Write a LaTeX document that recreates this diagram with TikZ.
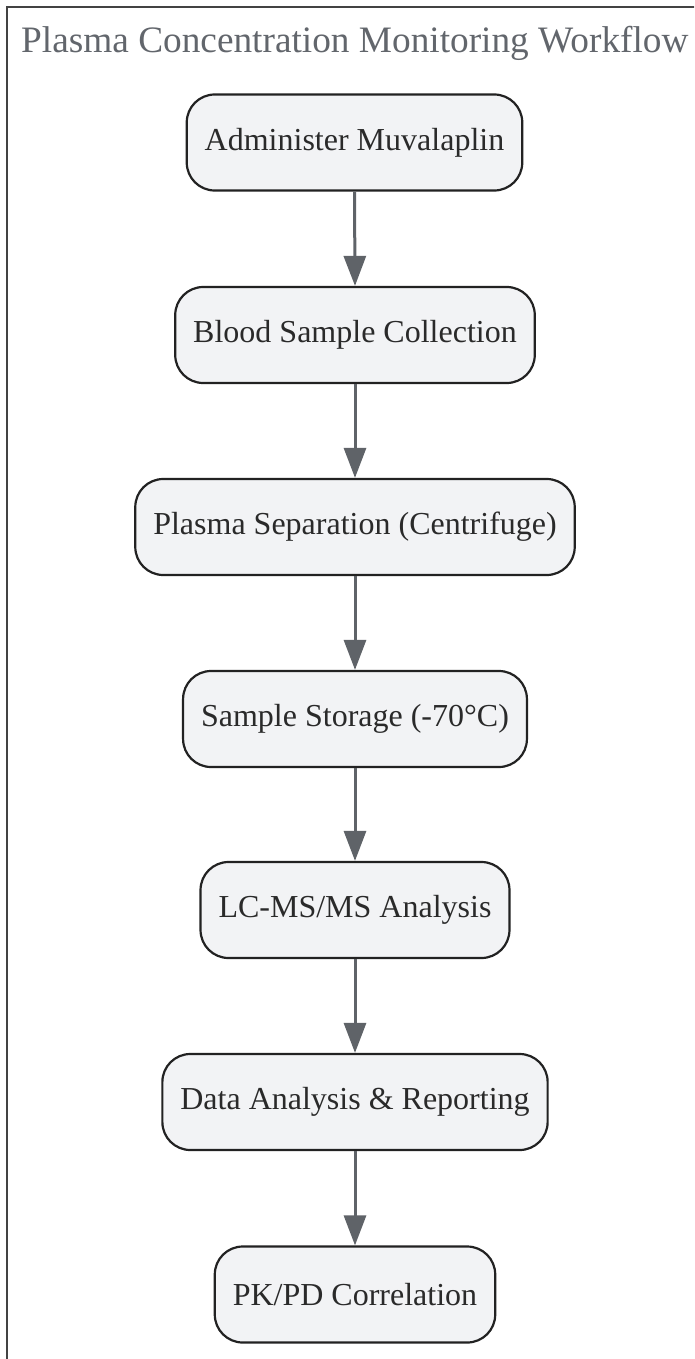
\documentclass[tikz,border=0pt]{standalone}
\usepackage{fontspec}
\setmainfont{Liberation Serif}
\usetikzlibrary{arrows.meta}
\definecolor{nodefill}{HTML}{F2F3F5}
\definecolor{nodeline}{HTML}{222222}
\definecolor{arrowcol}{HTML}{5F6368}
\definecolor{titlecol}{HTML}{62666C}
\definecolor{textcol}{HTML}{2A2A2A}
\tikzset{
  stepbox/.style={draw=nodeline, line width=2.2pt, fill=nodefill, rounded corners=28pt,
    minimum height=96pt, inner xsep=18pt, inner ysep=0pt, text=textcol,
    font=\fontsize{32}{36}\selectfont, anchor=center},
  flowarrow/.style={draw=arrowcol, line width=3pt, -{Triangle[width=22pt,length=30pt]}, shorten <=0pt}
}
\begin{document}
\begin{tikzpicture}[x=1pt,y=1pt]
\useasboundingbox (0,0) rectangle (694,-1359);
\begin{scope}
\clip (0,0) rectangle (694,-1359);
\draw[draw=nodeline!85, line width=2pt] (6.8,-1400) -- (6.8,-7) -- (720,-7);
\end{scope}
\node[anchor=base west, text=titlecol, font=\fontsize{37.3}{42}\selectfont, inner sep=0pt] (title) at (21,-53) {Plasma Concentration Monitoring Workflow};
\node[stepbox] (n1) at (354.5,-142.5) {Administer Muvalaplin};
\node[stepbox] (n2) at (355,-335) {Blood Sample Collection};
\node[stepbox] (n3) at (355,-527) {Plasma Separation (Centrifuge)};
\node[stepbox] (n4) at (355,-719) {Sample Storage (-70°C)};
\node[stepbox] (n5) at (355,-910) {LC-MS/MS Analysis};
\node[stepbox] (n6) at (355,-1102) {Data Analysis \& Reporting};
\node[stepbox] (n7) at (355,-1294.5) {PK/PD Correlation};
\foreach \a/\b in {n1/n2,n2/n3,n3/n4,n4/n5,n5/n6,n6/n7}{
  \draw[flowarrow] (\a.south) -- (\b.north);
}
\end{tikzpicture}
\end{document}
